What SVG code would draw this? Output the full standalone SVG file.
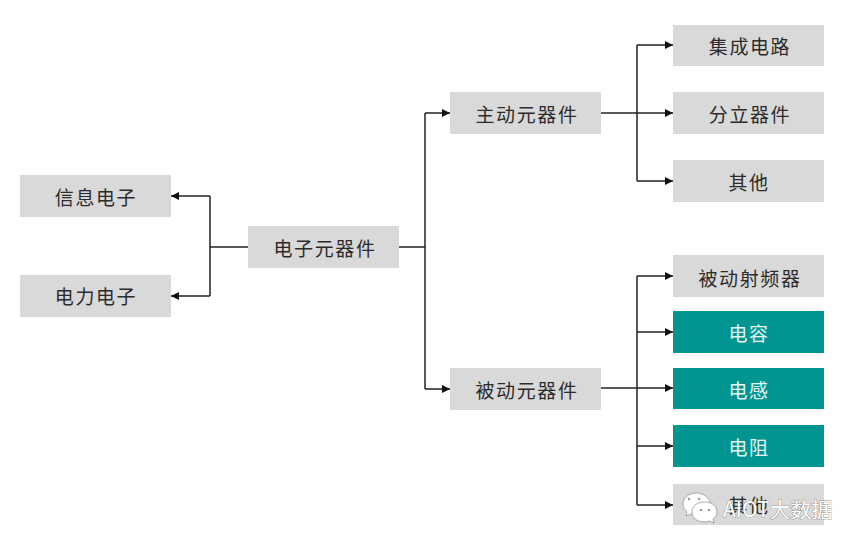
<svg xmlns="http://www.w3.org/2000/svg" width="861" height="547" viewBox="0 0 861 547">
  <style>
    .box { fill: #d9d9d9; }
    .teal { fill: #009590; }
    .label { font-family: "Noto Sans CJK SC", "Liberation Sans", sans-serif; font-size: 19px; letter-spacing: 1.6px; text-anchor: middle; fill: #2b2b2b; }
    .teal + .label { fill: #e4f5f3; }
    .line { fill: none; stroke: #222; stroke-width: 1.5; }
    .mark { font-family: "Noto Sans CJK SC", "Liberation Sans", sans-serif; font-size: 21px; fill: #fff; stroke: #555; stroke-width: 0.5; paint-order: stroke; }
    .bubble { fill: #fff; stroke: #8a8a8a; stroke-width: 0.7; }
  </style>
  <defs>
    <marker id="tip" markerUnits="userSpaceOnUse" markerWidth="9" markerHeight="9" refX="8" refY="4.5" orient="auto">
      <path d="M0 0.5L8 4.5L0 8.5Z" fill="#111"/>
    </marker>
  </defs>

  <rect width="861" height="547" fill="#fff"/>

  <g id="connectors" class="line">
    <path d="M248 247H210M210 196V296" />
    <path d="M210 196H171" marker-end="url(#tip)"/>
    <path d="M210 296H171" marker-end="url(#tip)"/>
    <path d="M399 247H425M425 113V389"/>
    <path d="M425 113H450" marker-end="url(#tip)"/>
    <path d="M425 389H450" marker-end="url(#tip)"/>
    <path d="M601 113H637M637 45V181"/>
    <path d="M637 45H673" marker-end="url(#tip)"/>
    <path d="M637 113H673" marker-end="url(#tip)"/>
    <path d="M637 181H673" marker-end="url(#tip)"/>
    <path d="M601 388H637M637 276V505"/>
    <path d="M637 276H673" marker-end="url(#tip)"/>
    <path d="M637 332H673" marker-end="url(#tip)"/>
    <path d="M637 388H673" marker-end="url(#tip)"/>
    <path d="M637 446H673" marker-end="url(#tip)"/>
    <path d="M637 505H673" marker-end="url(#tip)"/>
  </g>

  <g id="info-electronics"><rect class="box" x="20" y="175" width="151" height="42"/><text class="label" x="96" y="205">信息电子</text></g>
  <g id="power-electronics"><rect class="box" x="20" y="275" width="151" height="42"/><text class="label" x="96" y="304">电力电子</text></g>
  <g id="components"><rect class="box" x="248" y="226" width="151" height="42"/><text class="label" x="325" y="256">电子元器件</text></g>
  <g id="active"><rect class="box" x="450" y="92" width="151" height="42"/><text class="label" x="527" y="122">主动元器件</text></g>
  <g id="passive"><rect class="box" x="450" y="368" width="151" height="42"/><text class="label" x="527" y="398">被动元器件</text></g>
  <g id="ic"><rect class="box" x="673" y="25" width="151" height="41"/><text class="label" x="750" y="54">集成电路</text></g>
  <g id="discrete"><rect class="box" x="673" y="92" width="151" height="42"/><text class="label" x="750" y="122">分立器件</text></g>
  <g id="active-other"><rect class="box" x="673" y="160" width="151" height="42"/><text class="label" x="749" y="190">其他</text></g>
  <g id="rf"><rect class="box" x="673" y="255" width="151" height="42"/><text class="label" x="750" y="286">被动射频器</text></g>
  <g id="capacitor"><rect class="teal" x="673" y="311" width="151" height="42"/><text class="label" x="749" y="341">电容</text></g>
  <g id="inductor"><rect class="teal" x="673" y="368" width="151" height="41"/><text class="label" x="749" y="398">电感</text></g>
  <g id="resistor"><rect class="teal" x="673" y="425" width="151" height="42"/><text class="label" x="749" y="455">电阻</text></g>
  <g id="passive-other"><rect class="box" x="673" y="484" width="151" height="41"/><text class="label" x="749" y="513">其他</text></g>

  <g id="watermark">
    <path class="bubble" d="M696 493c-7 0-13 5-13 11c0 4 2 6 4 8l-1 4l5-2c2 1 4 1 6 1c7 0 13-5 13-11s-6-11-14-11z"/>
    <path class="bubble" d="M705 502c-8 0-13 4-13 10s5 10 13 10c1 0 3 0 4-1l5 2l-1-4c3-2 4-4 4-7c0-6-5-10-12-10z"/>
    <circle cx="689" cy="499" r="1.2" fill="#999"/><circle cx="699" cy="499" r="1.2" fill="#999"/>
    <circle cx="701" cy="510" r="1.1" fill="#777"/><circle cx="709" cy="510" r="1.1" fill="#777"/>
    <text class="mark" x="723" y="517">AIOT大数据</text>
  </g>
</svg>
